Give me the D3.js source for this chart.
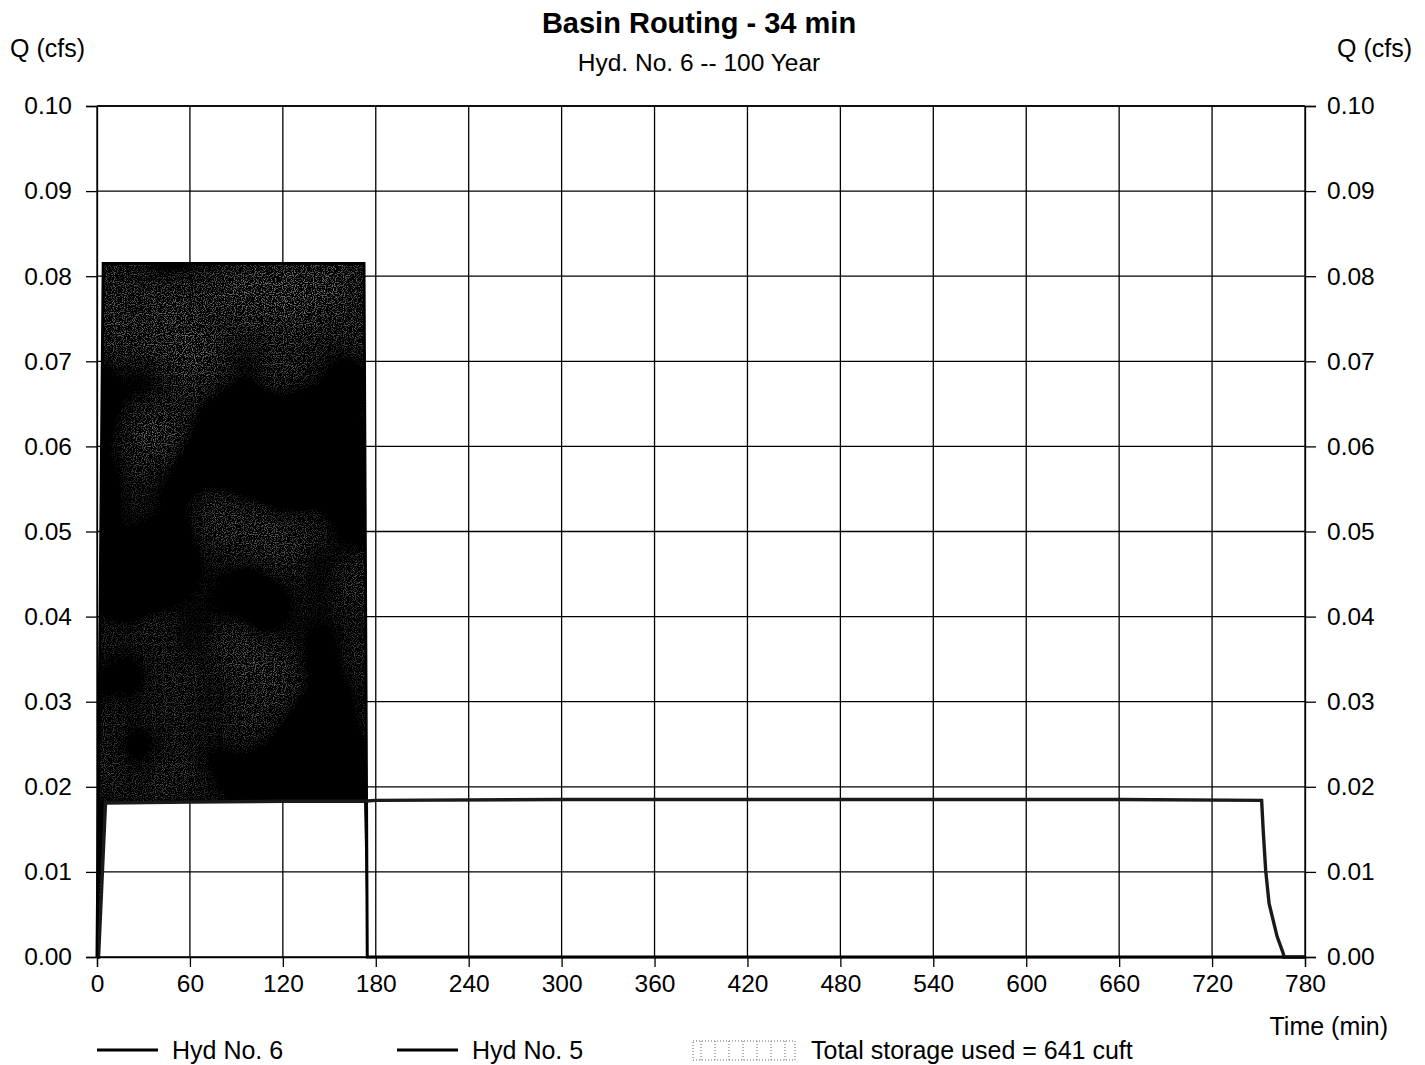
<!DOCTYPE html>
<html>
<head>
<meta charset="utf-8">
<script src="https://cdn.jsdelivr.net/npm/d3@7"></script>
<style>
body { margin: 0; background: #fff; }
text { font-family: "Liberation Sans", Arial, sans-serif; fill: #000; }
</style>
</head>
<body>
<svg id="chart" width="1425" height="1065"></svg>
<script>
// tick values
const timeTicks = [0, 60, 120, 180, 240, 300, 360, 420, 480, 540, 600, 660, 720, 780];
const flowTicks = [0.00, 0.01, 0.02, 0.03, 0.04, 0.05, 0.06, 0.07, 0.08, 0.09, 0.10];

// Hyd No. 5 (inflow)
const hyd5Time = [0, 4, 172.4, 174.5, 780];
const hyd5Q = [0, 0.0815, 0.0815, 0, 0];

// Hyd No. 6 (basin outflow)
const hyd6Time = [0, 1, 5.5, 60, 120, 172, 180, 300, 480, 660, 752, 753, 754.6, 756.8, 762, 765.8, 766.5, 780];
const hyd6Q = [0, 0, 0.0181, 0.0182, 0.0183, 0.0183, 0.0184, 0.0185, 0.0185, 0.0185, 0.0184, 0.0149, 0.0102, 0.0063, 0.0024, 0.0005, 0, 0];

const title = "Basin Routing - 34 min";
const subtitle = "Hyd. No. 6 -- 100 Year";
const storageLabel = "Total storage used = 641 cuft";

const plot = { left: 97, right: 1305, top: 106, bottom: 957 };

const svg = d3.select("#chart");

const x = d3.scaleLinear().domain([0, 780]).range([plot.left, plot.right]);
const y = d3.scaleLinear().domain([0, 0.10]).range([plot.bottom, plot.top]);

// speckled fill like the scanned storage area
const defs = svg.append("defs");
const filt = defs.append("filter").attr("id", "speckle")
  .attr("x", 0).attr("y", 0).attr("width", 1).attr("height", 1);
filt.append("feFlood").attr("flood-color", "#040404").attr("result", "base");
filt.append("feTurbulence").attr("type", "fractalNoise").attr("baseFrequency", 0.008)
  .attr("numOctaves", 2).attr("seed", 5).attr("result", "coarse");
filt.append("feColorMatrix").attr("in", "coarse").attr("type", "matrix")
  .attr("values", "0 0 0 0 0  0 0 0 0 0  0 0 0 0 0  2.4 0 0 0 -1.15").attr("result", "mask");
filt.append("feTurbulence").attr("type", "fractalNoise").attr("baseFrequency", 0.9)
  .attr("numOctaves", 1).attr("seed", 2).attr("result", "fine");
filt.append("feColorMatrix").attr("in", "fine").attr("type", "matrix")
  .attr("values", "0 0 0 0 0.45  0 0 0 0 0.45  0 0 0 0 0.45  3 0 0 0 -1.55").attr("result", "dots");
filt.append("feComposite").attr("in", "dots").attr("in2", "mask").attr("operator", "in").attr("result", "spots");
const merge = filt.append("feMerge");
merge.append("feMergeNode").attr("in", "base");
merge.append("feMergeNode").attr("in", "spots");

// grid
svg.append("g")
  .selectAll("line")
  .data(timeTicks)
  .join("line")
  .attr("x1", d => x(d)).attr("x2", d => x(d))
  .attr("y1", plot.top).attr("y2", plot.bottom)
  .attr("stroke", "#000").attr("stroke-width", 1.3);

svg.append("g")
  .selectAll("line")
  .data(flowTicks)
  .join("line")
  .attr("x1", plot.left).attr("x2", plot.right)
  .attr("y1", d => y(d)).attr("y2", d => y(d))
  .attr("stroke", "#000").attr("stroke-width", 1.3);

// storage area between inflow and outflow
const inflowAt = d3.scaleLinear().domain(hyd5Time).range(hyd5Q).clamp(true);
const outflowAt = d3.scaleLinear().domain(hyd6Time).range(hyd6Q).clamp(true);
const storageTimes = Array.from(new Set(hyd5Time.concat(hyd6Time)))
  .filter(t => t <= 174.5)
  .sort((a, b) => a - b);

const storageArea = d3.area()
  .x(d => x(d))
  .y0(d => y(Math.min(outflowAt(d), inflowAt(d))))
  .y1(d => y(inflowAt(d)));

defs.append("clipPath").attr("id", "storageClip")
  .append("path")
  .datum(storageTimes)
  .attr("d", storageArea);

svg.append("rect")
  .attr("x", plot.left).attr("y", plot.top)
  .attr("width", plot.right - plot.left).attr("height", plot.bottom - plot.top)
  .attr("clip-path", "url(#storageClip)")
  .attr("filter", "url(#speckle)");

// hydrograph lines
const hyd5 = hyd5Time.map((t, i) => ({ t: t, q: hyd5Q[i] }));
const hyd6 = hyd6Time.map((t, i) => ({ t: t, q: hyd6Q[i] }));

const line = d3.line()
  .x(d => x(d.t))
  .y(d => y(d.q));

svg.append("path")
  .datum(hyd5)
  .attr("fill", "none")
  .attr("stroke", "#000")
  .attr("stroke-width", 3)
  .attr("d", line);

svg.append("path")
  .datum(hyd6)
  .attr("fill", "none")
  .attr("stroke", "#1a1a1a")
  .attr("stroke-width", 3.4)
  .attr("d", line);

// axes
const yLeft = d3.axisLeft(y).tickValues(flowTicks).tickFormat(d3.format(".2f")).tickSize(11).tickPadding(14);
const yRight = d3.axisRight(y).tickValues(flowTicks).tickFormat(d3.format(".2f")).tickSize(11).tickPadding(11);
const xBottom = d3.axisBottom(x).tickValues(timeTicks).tickFormat(d3.format("d")).tickSize(10).tickPadding(8);

function styleAxis(g) {
  g.select(".domain").attr("stroke", "#000").attr("stroke-width", 1.3);
  g.selectAll(".tick line").attr("stroke", "#000").attr("stroke-width", 1.3);
  g.selectAll(".tick text")
    .style("font-family", '"Liberation Sans", Arial, sans-serif')
    .style("font-size", "24.5px")
    .attr("fill", "#000");
}

svg.append("g")
  .attr("transform", `translate(${plot.left},0)`)
  .call(yLeft)
  .call(styleAxis);

svg.append("g")
  .attr("transform", `translate(${plot.right},0)`)
  .call(yRight)
  .call(styleAxis);

svg.append("g")
  .attr("transform", `translate(0,${plot.bottom})`)
  .call(xBottom)
  .call(styleAxis);

// top border
svg.append("line")
  .attr("x1", plot.left).attr("x2", plot.right)
  .attr("y1", plot.top).attr("y2", plot.top)
  .attr("stroke", "#000").attr("stroke-width", 1.3);

// titles
svg.append("text")
  .attr("x", 699).attr("y", 33)
  .attr("text-anchor", "middle")
  .style("font-size", "29px").style("font-weight", "bold")
  .text(title);

svg.append("text")
  .attr("x", 699).attr("y", 71)
  .attr("text-anchor", "middle")
  .style("font-size", "24.5px")
  .text(subtitle);

svg.append("text")
  .attr("x", 10).attr("y", 57)
  .style("font-size", "25px")
  .text("Q (cfs)");

svg.append("text")
  .attr("x", 1412).attr("y", 57)
  .attr("text-anchor", "end")
  .style("font-size", "25px")
  .text("Q (cfs)");

svg.append("text")
  .attr("x", 1388).attr("y", 1035)
  .attr("text-anchor", "end")
  .style("font-size", "25px")
  .text("Time (min)");

// legend
const legend = svg.append("g");
const legendItems = [
  { label: "Hyd No. 6", x: 97 },
  { label: "Hyd No. 5", x: 397 }
];
legendItems.forEach(item => {
  legend.append("line")
    .attr("x1", item.x).attr("x2", item.x + 61)
    .attr("y1", 1050).attr("y2", 1050)
    .attr("stroke", "#000").attr("stroke-width", 3);
  legend.append("text")
    .attr("x", item.x + 75).attr("y", 1059)
    .style("font-size", "25px")
    .text(item.label);
});

const swatch = legend.append("g").attr("transform", "translate(693,1041)");
swatch.append("rect")
  .attr("x", 0).attr("y", 0).attr("width", 102).attr("height", 19)
  .attr("fill", "none").attr("stroke", "#666").attr("stroke-width", 1)
  .attr("stroke-dasharray", "1,2");
[8, 22, 36, 50, 64, 78, 92].forEach(px => {
  swatch.append("line")
    .attr("x1", px).attr("x2", px).attr("y1", 0).attr("y2", 19)
    .attr("stroke", "#666").attr("stroke-width", 1)
    .attr("stroke-dasharray", "1,2");
});
legend.append("text")
  .attr("x", 811).attr("y", 1059)
  .style("font-size", "25px")
  .text(storageLabel);
</script>
</body>
</html>
